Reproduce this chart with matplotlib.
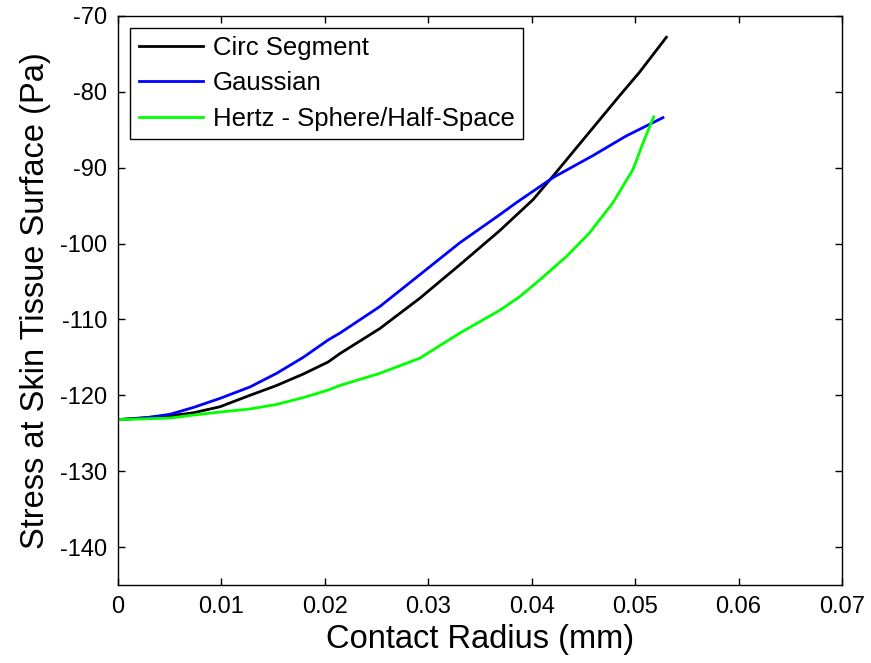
import matplotlib
matplotlib.use("Agg")
import matplotlib.pyplot as plt

# Values
circ_x = [0, 0.00502, 0.00728, 0.00986, 0.01275, 0.01533, 0.0179, 0.02032,
          0.02145, 0.02531, 0.02918, 0.03304, 0.0369, 0.04013, 0.04206,
          0.04528, 0.0485, 0.05043, 0.05302]
circ_y = [-123.2, -122.7, -122.3, -121.5, -120.0, -118.7, -117.2, -115.6,
          -114.5, -111.2, -107.2, -102.8, -98.3, -94.2, -91.1,
          -85.8, -80.5, -77.4, -72.8]

gauss_x = [0, 0.00245, 0.00502, 0.00728, 0.00986, 0.01275, 0.01533, 0.0179,
           0.02032, 0.02145, 0.02531, 0.02918, 0.03304, 0.0369, 0.03852,
           0.04206, 0.04592, 0.04915, 0.05269]
gauss_y = [-123.2, -123.0, -122.5, -121.6, -120.4, -118.9, -117.1, -115.0,
           -112.7, -111.8, -108.3, -104.1, -99.9, -96.2, -94.6,
           -91.3, -88.4, -85.8, -83.4]

hertz_x = [0, 0.00502, 0.00728, 0.00986, 0.01275, 0.01533, 0.0179, 0.02032,
           0.02145, 0.02531, 0.02918, 0.03304, 0.0369, 0.03884, 0.04093,
           0.04335, 0.04558, 0.04786, 0.0498, 0.05077, 0.05179]
hertz_y = [-123.2, -123.0, -122.6, -122.2, -121.8, -121.2, -120.3, -119.3,
           -118.7, -117.1, -115.1, -111.8, -108.8, -107.0, -104.6,
           -101.7, -98.6, -94.6, -90.2, -86.7, -83.3]

labels = ["Circ Segment", "Gaussian", "Hertz - Sphere/Half-Space"]
xticks = [0, 0.01, 0.02, 0.03, 0.04, 0.05, 0.06, 0.07]
xtick_labels = ["0", "0.01", "0.02", "0.03", "0.04", "0.05", "0.06", "0.07"]
yticks = [-140, -130, -120, -110, -100, -90, -80, -70]

plt.rcParams["font.family"] = ["Liberation Sans", "DejaVu Sans"]
plt.rcParams["axes.unicode_minus"] = False

fig = plt.figure(figsize=(8.71, 6.63), dpi=100)
axis = fig.add_axes([0.1355, 0.1176, 0.8312, 0.8583])

# Curves
axis.plot(circ_x, circ_y, color="k", lw=2, label=labels[0])
axis.plot(gauss_x, gauss_y, color="#0000ff", lw=2, label=labels[1])
axis.plot(hertz_x, hertz_y, color="#00ff00", lw=2, label=labels[2])

# Axes limits and ticks (MATLAB look)
axis.set_xlim(0, 0.07)
axis.set_ylim(-145, -70)
axis.set_xticks(xticks)
axis.set_xticklabels(xtick_labels)
axis.set_yticks(yticks)
axis.tick_params(direction="in", top=True, right=True, length=5,
                 width=1, labelsize=17, pad=8)
for spine in axis.spines.values():
    spine.set_linewidth(1)

axis.set_xlabel("Contact Radius (mm)", fontsize=23.5, labelpad=4)
axis.set_ylabel("Stress at Skin Tissue Surface (Pa)", fontsize=23.5,
                labelpad=6)

leg = axis.legend(loc="upper left", bbox_to_anchor=(0.0166, 0.979),
                  borderaxespad=0, fontsize=18.5, handlelength=2.5,
                  fancybox=False, framealpha=1, edgecolor="k",
                  labelspacing=0.43, borderpad=0.33, handletextpad=0.4)
leg.get_frame().set_linewidth(1)

fig.savefig("out.png", dpi=100)
